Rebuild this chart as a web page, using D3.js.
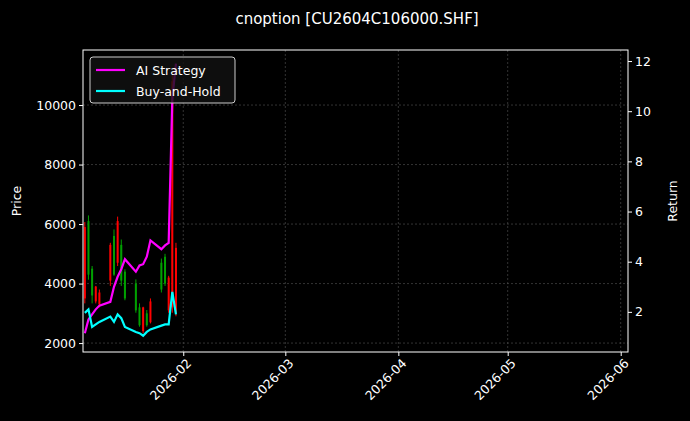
<!DOCTYPE html>
<html><head><meta charset="utf-8">
<script src="https://cdn.jsdelivr.net/npm/d3@7"></script>
<style>body{margin:0;background:#000;} text{font-family:"DejaVu Sans",sans-serif;fill:#fff;}</style>
</head><body><svg id="c" width="690" height="421"></svg>
<script>
var dates = ["2026-01-05","2026-01-06","2026-01-07","2026-01-08","2026-01-09","2026-01-12","2026-01-13","2026-01-14","2026-01-15","2026-01-16",
  "2026-01-19","2026-01-20","2026-01-21","2026-01-22","2026-01-23","2026-01-26","2026-01-27","2026-01-28","2026-01-29","2026-01-30"];
var open  = [5900,4300,3600,3900,3700,5300,4300,6100,4100,3500,3100,2600,3200,2600,3400,3800,4000,4200,10800,5200];
var close = [3500,6100,4500,3400,3300,4100,5600,4700,5300,4400,4000,3200,2400,3000,2700,4700,4900,3100,3200,3000];
var high  = [6070,6290,4590,3920,3800,5370,5820,6250,5480,4480,4140,3334,3220,3110,3500,4840,5000,4260,11000,5370];
var low   = [3334,4130,3334,3334,3200,3920,4260,4590,3920,3440,3020,2550,2330,2550,2660,3700,3920,3020,3020,2900];
var aiReturn = [1.15,1.7,1.9,2.1,2.25,2.4,3.0,3.4,3.7,4.1,3.6,3.85,3.9,4.2,4.85,4.5,4.65,4.75,10.5,11.9];
var bhReturn = [1.96,2.1,1.4,1.5,1.6,1.81,1.6,1.9,1.75,1.4,1.2,1.15,1.05,1.2,1.3,1.45,1.5,1.5,2.8,1.9];
var xTicks = ["2026-02-01","2026-03-01","2026-04-01","2026-05-01","2026-06-01"];

var parse = d3.utcParse("%Y-%m-%d");
var svg = d3.select("#c");
var m = {l:83, r:628, t:50, b:352};
var x = d3.scaleUtc().domain([parse("2026-01-04T12"||"") || new Date(Date.UTC(2026,0,4,12)), new Date(Date.UTC(2026,5,3))]).range([m.l, m.r]);
x.domain([new Date(Date.UTC(2026,0,4,12)), new Date(Date.UTC(2026,5,3))]);
var yP = d3.scaleLinear().domain([1700, 11850]).range([m.b, m.t]);
var yR = d3.scaleLinear().domain([0.4, 12.44]).range([m.b, m.t]);
var rows = dates.map(function(d, i) {
	return {date: parse(d), o: open[i], c: close[i], h: high[i], l: low[i], ai: aiReturn[i], bh: bhReturn[i]};
});

var g = svg.append("g");
// grid
xTicks.forEach(function(t) {
	g.append("line").attr("x1", x(parse(t))).attr("x2", x(parse(t))).attr("y1", m.t).attr("y2", m.b)
		.attr("stroke", "#555").attr("stroke-width", 0.6).attr("stroke-dasharray", "2,2");
});
[2000,4000,6000,8000,10000].forEach(function(v) {
	g.append("line").attr("x1", m.l).attr("x2", m.r).attr("y1", yP(v)).attr("y2", yP(v))
		.attr("stroke", "#555").attr("stroke-width", 0.6).attr("stroke-dasharray", "2,2");
});

// candles
var cw = 2;
rows.forEach(function(d) {
	var col = d.c >= d.o ? "#00a000" : "#ff0000";
	var cx = x(d.date);
	g.append("line").attr("x1", cx).attr("x2", cx).attr("y1", yP(d.h)).attr("y2", yP(d.l)).attr("stroke", col).attr("stroke-width", 1);
	g.append("rect").attr("x", cx - cw/2).attr("width", cw)
		.attr("y", yP(Math.max(d.o, d.c))).attr("height", Math.max(1, Math.abs(yP(d.o) - yP(d.c)))).attr("fill", col);
});

// returns
var lineAi = d3.line().x(function(d) {return x(d.date);}).y(function(d) {return yR(d.ai);});
var lineBh = d3.line().x(function(d) {return x(d.date);}).y(function(d) {return yR(d.bh);});
g.append("path").datum(rows).attr("d", lineAi).attr("fill", "none").attr("stroke", "#ff00ff").attr("stroke-width", 2.2);
g.append("path").datum(rows).attr("d", lineBh).attr("fill", "none").attr("stroke", "#00ffff").attr("stroke-width", 2.2);

// frame
g.append("rect").attr("x", m.l).attr("y", m.t).attr("width", m.r - m.l).attr("height", m.b - m.t)
	.attr("fill", "none").attr("stroke", "#fff").attr("stroke-width", 1);

// axes
var ax = svg.append("g").attr("transform", "translate(0," + m.b + ")")
	.call(d3.axisBottom(x).tickValues(xTicks.map(parse)).tickFormat(d3.utcFormat("%Y-%m")).tickSize(4));
ax.selectAll("text").attr("text-anchor", "end").attr("dx", "-0.2em").attr("dy", "0.6em")
	.attr("transform", "rotate(-45)").style("font-size", "12.5px");
var al = svg.append("g").attr("transform", "translate(" + m.l + ",0)")
	.call(d3.axisLeft(yP).tickValues([2000,4000,6000,8000,10000]).tickFormat(d3.format("d")).tickSize(4));
al.selectAll("text").style("font-size", "12.5px");
var ar = svg.append("g").attr("transform", "translate(" + m.r + ",0)")
	.call(d3.axisRight(yR).tickValues([2,4,6,8,10,12]).tickSize(4));
ar.selectAll("text").style("font-size", "12.5px");
svg.selectAll(".domain").remove();
svg.selectAll(".tick line").attr("stroke", "#fff");

svg.append("text").attr("x", 357).attr("y", 24).attr("text-anchor", "middle").style("font-size", "15px").text("cnoption [CU2604C106000.SHF]");
svg.append("text").attr("transform", "translate(21,201) rotate(-90)").attr("text-anchor", "middle").style("font-size", "12.5px").text("Price");
svg.append("text").attr("transform", "translate(677,201) rotate(-90)").attr("text-anchor", "middle").style("font-size", "12.5px").text("Return");

// legend
var lg = svg.append("g");
lg.append("rect").attr("x", 90).attr("y", 57).attr("width", 145).attr("height", 46).attr("rx", 3)
	.attr("fill", "#111").attr("fill-opacity", 0.8).attr("stroke", "#ccc");
[["AI Strategy", "#ff00ff"], ["Buy-and-Hold", "#00ffff"]].forEach(function(e, i) {
	var yy = 70 + i * 21;
	lg.append("line").attr("x1", 96).attr("x2", 125).attr("y1", yy).attr("y2", yy).attr("stroke", e[1]).attr("stroke-width", 2.2);
	lg.append("text").attr("x", 136).attr("y", yy + 4.5).style("font-size", "12.5px").text(e[0]);
});
</script></body></html>
